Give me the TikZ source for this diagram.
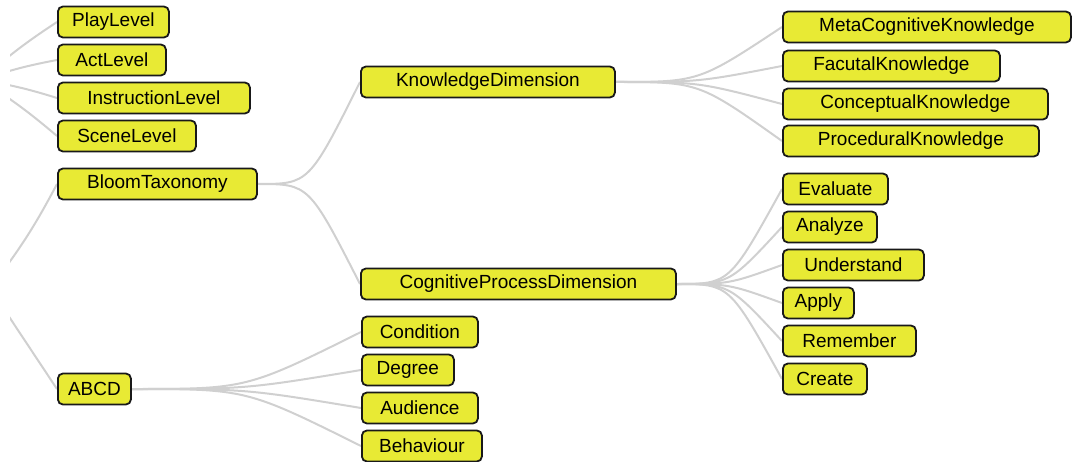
\documentclass[tikz,border=0pt]{standalone}
\usepackage{fontspec}
\setmainfont{Liberation Sans}
\usepackage{tikz}
\usetikzlibrary{calc}
\pgfdeclarelayer{nodelayer}
\pgfdeclarelayer{edgelayer}
\pgfsetlayers{edgelayer,nodelayer,main}
\definecolor{topicfill}{RGB}{232,234,52}
\definecolor{branchgrey}{RGB}{208,208,208}
\tikzset{
  topic/.style={draw=black!90, line width=1.8pt, fill=topicfill, rounded corners=5pt,
    anchor=west, minimum height=31pt, inner sep=0pt, font=\fontsize{19}{22}\selectfont},
  branch/.style={draw=branchgrey, line width=2pt,
    to path={.. controls ($(\tikztostart)!0.5!(\tikztotarget|-\tikztostart)$) .. (\tikztotarget)}},
  stub/.style={draw=branchgrey, line width=2pt}
}

\begin{document}
\begin{tikzpicture}[x=1pt, y=-1pt]
  \path[use as bounding box] (0, 0) rectangle (1075, 462);
  \begin{pgfonlayer}{nodelayer}
    \coordinate (levels) at (-19, 80);
    \coordinate (root) at (-10, 288);
    \node [topic, minimum width=111] (0) at (57, 22) {PlayLevel};
    \node [topic, minimum width=108] (1) at (57, 60) {ActLevel};
    \node [topic, minimum width=192] (2) at (57, 98) {InstructionLevel};
    \node [topic, minimum width=138] (3) at (57, 136) {SceneLevel};
    \node [topic, minimum width=199] (4) at (57, 184) {BloomTaxonomy};
    \node [topic, minimum width=73] (5) at (57, 389) {ABCD};
    \node [topic, minimum width=254] (6) at (360, 82) {KnowledgeDimension};
    \node [topic, minimum width=315] (7) at (360, 284) {CognitiveProcessDimension};
    \node [topic, minimum width=116] (8) at (361, 332) {Condition};
    \node [topic, minimum width=92] (9) at (361, 370) {Degree};
    \node [topic, minimum width=116] (10) at (361, 408) {Audience};
    \node [topic, minimum width=120] (11) at (361, 446) {Behaviour};
    \node [topic, minimum width=288] (12) at (782, 27) {MetaCognitiveKnowledge};
    \node [topic, minimum width=217] (13) at (782, 66) {FacutalKnowledge};
    \node [topic, minimum width=265] (14) at (782, 104) {ConceptualKnowledge};
    \node [topic, minimum width=256] (15) at (782, 141) {ProceduralKnowledge};
    \node [topic, minimum width=105] (16) at (782, 189) {Evaluate};
    \node [topic, minimum width=94] (17) at (782, 227) {Analyze};
    \node [topic, minimum width=141] (18) at (782, 265) {Understand};
    \node [topic, minimum width=71] (19) at (782, 303) {Apply};
    \node [topic, minimum width=133] (20) at (782, 341) {Remember};
    \node [topic, minimum width=84] (21) at (782, 379) {Create};
  \end{pgfonlayer}
  \begin{pgfonlayer}{edgelayer}
    % branches coming in from the parent off to the left, cut at the margin
    \begin{scope}
      \clip (10, 0) rectangle (1075, 462);
      \foreach \n in {0,...,3}
        \draw [stub] (levels) to [bend left=4] (\n.west);
      \draw [stub] (root) to [bend right=5] (4.west);
      \draw [stub] (root) to (5.west);
    \end{scope}
    \foreach \n in {6,7}
      \draw [branch] (4.east) to (\n.west);
    \foreach \n in {8,...,11}
      \draw [branch] (5.east) to (\n.west);
    \foreach \n in {12,...,15}
      \draw [branch] (6.east) to (\n.west);
    \foreach \n in {16,...,21}
      \draw [branch] (7.east) to (\n.west);
  \end{pgfonlayer}
\end{tikzpicture}
\end{document}
